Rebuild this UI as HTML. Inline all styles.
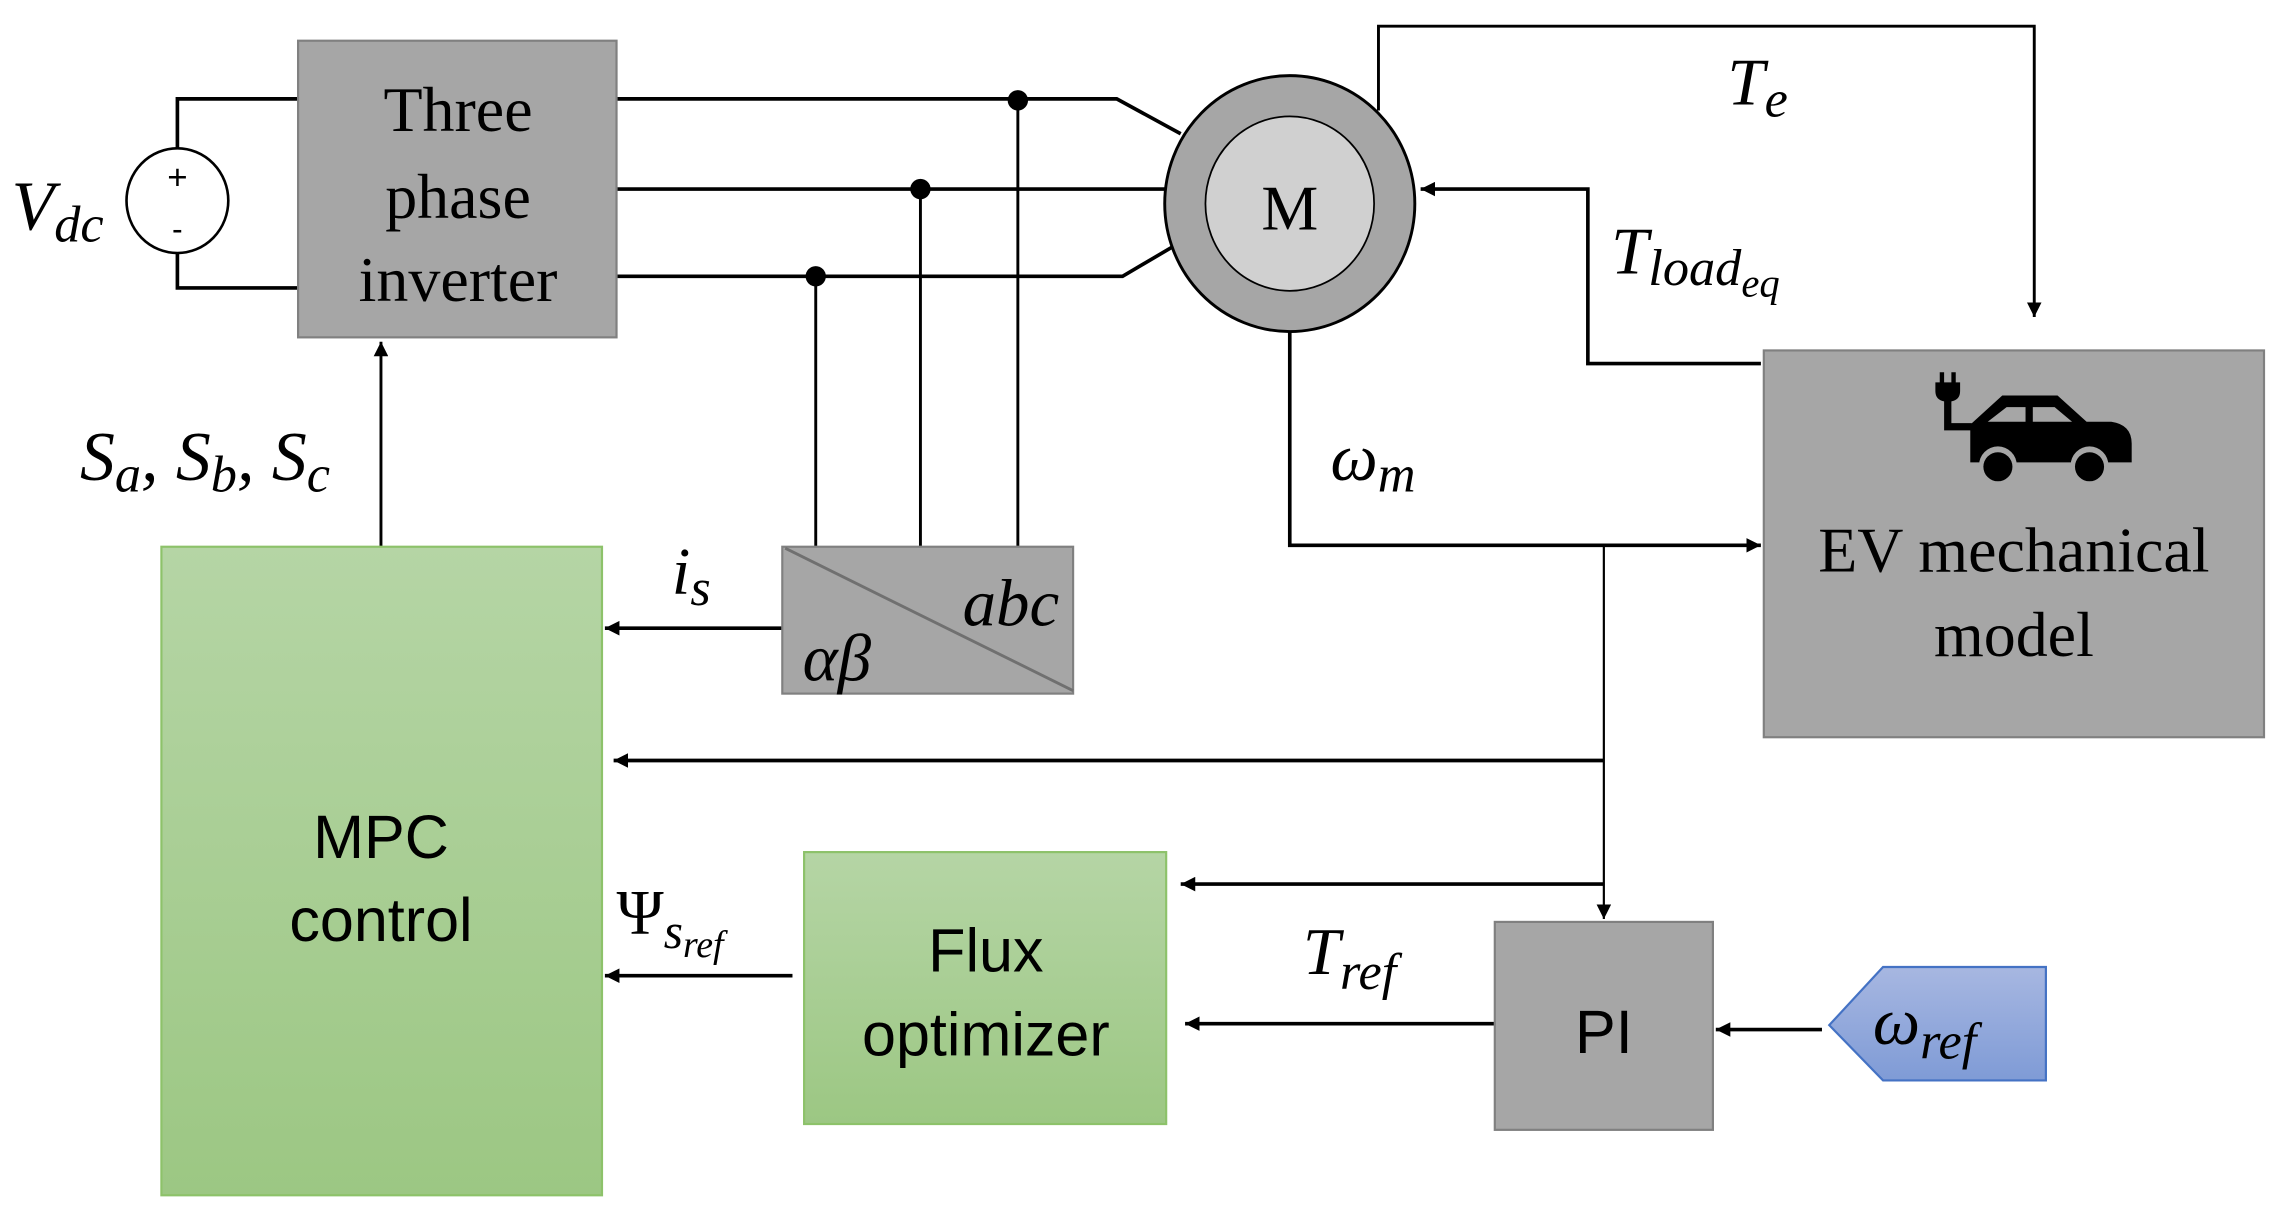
<!DOCTYPE html>
<html><head><meta charset="utf-8"><style>
html,body{margin:0;padding:0;background:#fff}
svg{display:block}
.s{font-family:"Liberation Sans",sans-serif}
.m{font-family:"Liberation Serif",serif;font-style:italic}
.r{font-family:"Liberation Serif",serif}
</style></head><body>
<svg width="2280" height="1220" viewBox="0 0 1568 839" preserveAspectRatio="none" xmlns="http://www.w3.org/2000/svg">
<defs>
<linearGradient id="g" x1="0" y1="0" x2="0" y2="1"><stop offset="0" stop-color="#b5d5a5"/><stop offset="1" stop-color="#9cc783"/></linearGradient>
<linearGradient id="b" x1="0" y1="0" x2="0" y2="1"><stop offset="0" stop-color="#a7b7e1"/><stop offset="1" stop-color="#7f9bd6"/></linearGradient>
<marker id="a" viewBox="0 0 10 10" refX="10" refY="5" markerWidth="10" markerHeight="10" markerUnits="userSpaceOnUse" orient="auto"><path d="M0,0 L10,5 L0,10 z" fill="#000"/></marker>
</defs>
<g fill="none" stroke="#000" stroke-width="2.5">
<path d="M122,103 V68 H205 M122,173 V198 H205"/>
<ellipse cx="122" cy="138" rx="35" ry="36" stroke-width="1.8" fill="#fff"/>
<path d="M424,68 H768 L812,92 M424,130 H802 M424,190 H772 L806,170"/>
<path d="M700,68 V376 M633,130 V376 M561,190 V376" stroke-width="2"/>
<path d="M948,76 V18 H1399 V218" stroke-width="2" marker-end="url(#a)"/>
<path d="M1211,250 H1092 V130 H977" marker-end="url(#a)"/>
<path d="M887,228 V375 H1211" marker-end="url(#a)"/>
<path d="M1103,375 V632" stroke-width="1.5" marker-end="url(#a)"/>
<path d="M1103,523 H422" marker-end="url(#a)"/>
<path d="M1103,608 H812" marker-end="url(#a)"/>
<path d="M538,432 H416" marker-end="url(#a)"/>
<path d="M262,376 V235" stroke-width="2" marker-end="url(#a)"/>
<path d="M545,671 H416" marker-end="url(#a)"/>
<path d="M1028,704 H815" marker-end="url(#a)"/>
<path d="M1253,708 H1180" marker-end="url(#a)"/>
</g>
<g fill="#000"><circle cx="700" cy="69" r="7"/><circle cx="633" cy="130" r="7"/><circle cx="561" cy="190" r="7"/></g>
<text x="122" y="130" text-anchor="middle" class="s" font-size="24">+</text>
<text x="122" y="165" text-anchor="middle" class="s" font-size="22">-</text>
<text x="8" y="158" class="m" font-size="48">V<tspan font-size="36" dy="8">dc</tspan></text>
<rect x="205" y="28" width="219" height="204" fill="#a6a6a6" stroke="#808080" stroke-width="1.5"/>
<g class="r" font-size="44" text-anchor="middle"><text x="315" y="90">Three</text><text x="315" y="150">phase</text><text x="315" y="207">inverter</text></g>
<ellipse cx="887" cy="140" rx="86" ry="88" fill="#a6a6a6" stroke="#000" stroke-width="2"/>
<ellipse cx="887" cy="140" rx="58" ry="60" fill="#d0d0d0" stroke="#000" stroke-width="1.2"/>
<text x="887" y="158" text-anchor="middle" class="r" font-size="44">M</text>
<text x="1188" y="72" class="m" font-size="46">T<tspan font-size="36" dy="8">e</tspan></text>
<text x="1108" y="188" class="m" font-size="46">T<tspan font-size="36" dy="8">load</tspan><tspan font-size="28" dy="8">eq</tspan></text>
<text x="915" y="330" class="m" font-size="46">ω<tspan font-size="36" dy="8">m</tspan></text>
<rect x="1213" y="241" width="344" height="266" fill="#a6a6a6" stroke="#808080" stroke-width="1.5"/>
<g class="r" font-size="44" text-anchor="middle"><text x="1385" y="393">EV mechanical</text><text x="1385" y="451">model</text></g>
<g fill="#000"><rect x="1334" y="256" width="3" height="9"/><rect x="1342" y="256" width="3" height="9"/><path d="M1331,263 h17 v6 q0,6 -6,7 h-5 q-6,-1 -6,-7z"/><path d="M1337,275 h5 v16 h14 v5 h-19z"/>
<path d="M1355,292 L1377,272 H1415 L1435,290 H1452 Q1466,292 1466,305 V318 H1355Z"/>
</g>
<path d="M1367,290 L1380,280 H1393 V290Z M1398,280 H1413 L1425,290 H1398Z" fill="#a6a6a6"/>
<circle cx="1374" cy="320" r="13" fill="#a6a6a6"/><circle cx="1437" cy="320" r="13" fill="#a6a6a6"/>
<circle cx="1374" cy="321" r="10" fill="#000"/><circle cx="1437" cy="321" r="10" fill="#000"/>
<rect x="538" y="376" width="200" height="101" fill="#a6a6a6" stroke="#808080" stroke-width="1.5"/>
<line x1="540" y1="377" x2="738" y2="475" stroke="#707070" stroke-width="2"/>
<text x="662" y="430" class="m" font-size="46">abc</text>
<text x="552" y="468" class="m" font-size="46">αβ</text>
<text x="462" y="408" class="m" font-size="46">i<tspan font-size="36" dy="8">s</tspan></text>
<text x="55" y="330" class="m" font-size="48">S<tspan font-size="36" dy="8">a</tspan><tspan dy="-8">, S</tspan><tspan font-size="36" dy="8">b</tspan><tspan dy="-8">, S</tspan><tspan font-size="36" dy="8">c</tspan></text>
<rect x="111" y="376" width="303" height="446" fill="url(#g)" stroke="#8dc26a" stroke-width="1.5"/>
<g class="s" font-size="42" text-anchor="middle"><text x="262" y="590">MPC</text><text x="262" y="647">control</text></g>
<text x="424" y="642" class="r" font-size="44">Ψ<tspan class="m" font-size="34" dy="10">s</tspan><tspan class="m" font-size="26" dy="6">ref</tspan></text>
<rect x="553" y="586" width="249" height="187" fill="url(#g)" stroke="#8dc26a" stroke-width="1.5"/>
<g class="s" font-size="42" text-anchor="middle"><text x="678" y="668">Flux</text><text x="678" y="726">optimizer</text></g>
<text x="896" y="670" class="m" font-size="46">T<tspan font-size="36" dy="10">ref</tspan></text>
<rect x="1028" y="634" width="150" height="143" fill="#a6a6a6" stroke="#808080" stroke-width="1.5"/>
<text x="1103" y="724" text-anchor="middle" class="s" font-size="42">PI</text>
<polygon points="1258,705 1295,665 1407,665 1407,743 1295,743" fill="url(#b)" stroke="#4472c4" stroke-width="1.5"/>
<text x="1288" y="718" class="m" font-size="46">ω<tspan font-size="36" dy="10">ref</tspan></text>
</svg>
</body></html>
